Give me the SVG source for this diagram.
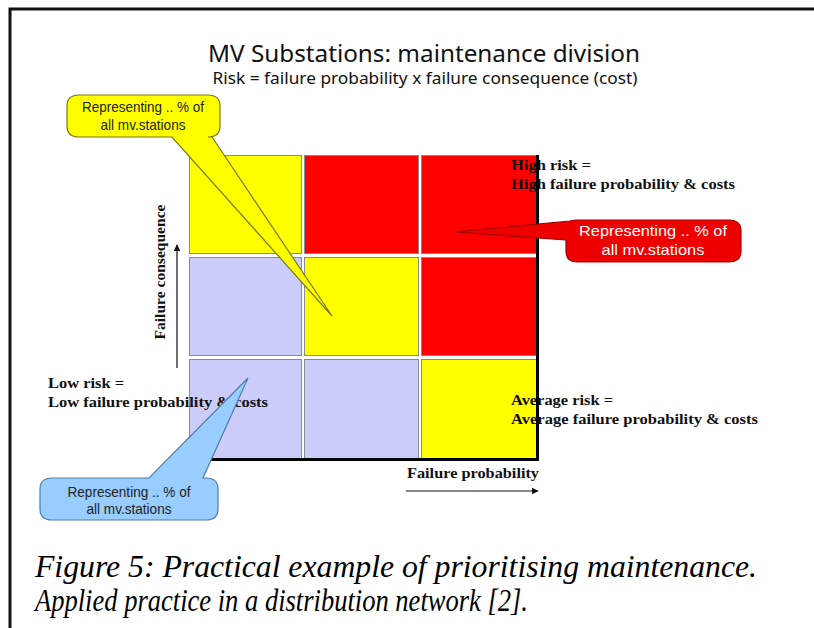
<svg xmlns="http://www.w3.org/2000/svg" width="814" height="628" viewBox="0 0 814 628">
<style>
.cell{stroke:#8a8a8a;stroke-width:1}
.y{fill:#FFFF00}.r{fill:#FF0000}.l{fill:#CCCCFA}
.title{font-family:"Noto Sans","DejaVu Sans",sans-serif;fill:#111}
.lbl{font-family:"Liberation Serif","Times New Roman",serif;font-weight:bold;font-size:15px;fill:#111}
.co{font-family:"Liberation Sans",Arial,sans-serif;font-size:14.5px;text-anchor:middle}
.cap{font-family:"Liberation Serif","Times New Roman",serif;font-style:italic;font-size:31px;fill:#000}
.ax{stroke:#111;stroke-width:1.2;fill:none}
</style>
<defs>
<marker id="ah" viewBox="0 0 10 10" refX="9" refY="5" markerWidth="7" markerHeight="7" orient="auto" markerUnits="userSpaceOnUse"><path d="M0,0 L10,5 L0,10 z" fill="#111"/></marker>
</defs>
<rect width="814" height="628" fill="#fff"/>
<g id="frame" stroke="#111" stroke-width="3" fill="none">
<path d="M10,628 L10,9 L814,9"/>
</g>
<g id="title">
<text class="title" x="424" y="62" font-size="23" text-anchor="middle" textLength="432" lengthAdjust="spacingAndGlyphs">MV Substations: maintenance division</text>
<text class="title" x="425" y="84" font-size="15.5" text-anchor="middle" textLength="425" lengthAdjust="spacingAndGlyphs">Risk = failure probability x failure consequence (cost)</text>
</g>
<g id="grid">
<rect class="cell y" x="189.5" y="155.5" width="112" height="98"/>
<rect class="cell r" x="304.5" y="155.5" width="114" height="98"/>
<rect class="cell r" x="421.5" y="155.5" width="115" height="98"/>
<rect class="cell l" x="189.5" y="257.5" width="112" height="98"/>
<rect class="cell y" x="304.5" y="257.5" width="114" height="98"/>
<rect class="cell r" x="421.5" y="257.5" width="115" height="98"/>
<rect class="cell l" x="189.5" y="359.5" width="112" height="99"/>
<rect class="cell l" x="304.5" y="359.5" width="114" height="99"/>
<rect class="cell y" x="421.5" y="359.5" width="115" height="99"/>
</g>
<g id="labels">
<text class="lbl" x="511" y="170" textLength="80" lengthAdjust="spacingAndGlyphs">High risk =</text>
<text class="lbl" x="511" y="189" textLength="224" lengthAdjust="spacingAndGlyphs">High failure probability &amp; costs</text>
<text class="lbl" x="511" y="405" textLength="102" lengthAdjust="spacingAndGlyphs">Average risk =</text>
<text class="lbl" x="511" y="424" textLength="247" lengthAdjust="spacingAndGlyphs">Average failure probability &amp; costs</text>
<text class="lbl" x="48" y="388" textLength="76" lengthAdjust="spacingAndGlyphs">Low risk =</text>
<text class="lbl" x="48" y="407" textLength="220" lengthAdjust="spacingAndGlyphs">Low failure probability &amp; costs</text>
<text class="lbl" x="407" y="478" textLength="132" lengthAdjust="spacingAndGlyphs">Failure probability</text>
<text class="lbl" transform="translate(165,272) rotate(-90)" text-anchor="middle" textLength="135" lengthAdjust="spacingAndGlyphs">Failure consequence</text>
</g>
<g id="axes">
<path d="M189,459.5 L539,459.5 M537.5,155 L537.5,461" stroke="#000" stroke-width="3" fill="none"/>
</g>
<g id="connectors">
<line class="ax" x1="177" y1="368" x2="177" y2="245" marker-end="url(#ah)"/>
<line class="ax" x1="406" y1="491" x2="538" y2="491" marker-end="url(#ah)"/>
</g>
<g id="callout-yellow">
<path d="M79,95 L208,95 Q220,95 220,106 L220,126 Q220,137 208,137 L212,137 L332,316 L172,137 L79,137 Q67,137 67,126 L67,106 Q67,95 79,95 Z" fill="#FFFF00" stroke="#7a7a10" stroke-width="1.2"/>
<text class="co" x="143" y="112" fill="#222" textLength="122" lengthAdjust="spacingAndGlyphs">Representing .. % of</text>
<text class="co" x="143" y="130" fill="#222" textLength="85" lengthAdjust="spacingAndGlyphs">all mv.stations</text>
</g>
<g id="callout-red">
<path d="M577,220 L729,220 Q741,220 741,231 L741,251 Q741,262 729,262 L577,262 Q566,262 566,251 L566,240 L455,232 L570,221 Q573,220 577,220 Z" fill="#EE0000" stroke="#990000" stroke-width="1.2"/>
<text class="co" x="653" y="236" fill="#fff" textLength="148" lengthAdjust="spacingAndGlyphs">Representing .. % of</text>
<text class="co" x="653" y="255" fill="#fff" textLength="103" lengthAdjust="spacingAndGlyphs">all mv.stations</text>
</g>
<g id="callout-blue">
<path d="M52,478 L149,478 L248,378 L203,478 L206,478 Q218,478 218,489 L218,509 Q218,520 206,520 L52,520 Q40,520 40,509 L40,489 Q40,478 52,478 Z" fill="#99CCFF" stroke="#4f7fa8" stroke-width="1.2"/>
<text class="co" x="129" y="497" fill="#222" textLength="123" lengthAdjust="spacingAndGlyphs">Representing .. % of</text>
<text class="co" x="129" y="514" fill="#222" textLength="85" lengthAdjust="spacingAndGlyphs">all mv.stations</text>
</g>
<g id="caption">
<text class="cap" x="35" y="577" textLength="722" lengthAdjust="spacingAndGlyphs">Figure 5: Practical example of prioritising maintenance.</text>
<text class="cap" x="35" y="611" textLength="493" lengthAdjust="spacingAndGlyphs">Applied practice in a distribution network [2].</text>
</g>
</svg>
